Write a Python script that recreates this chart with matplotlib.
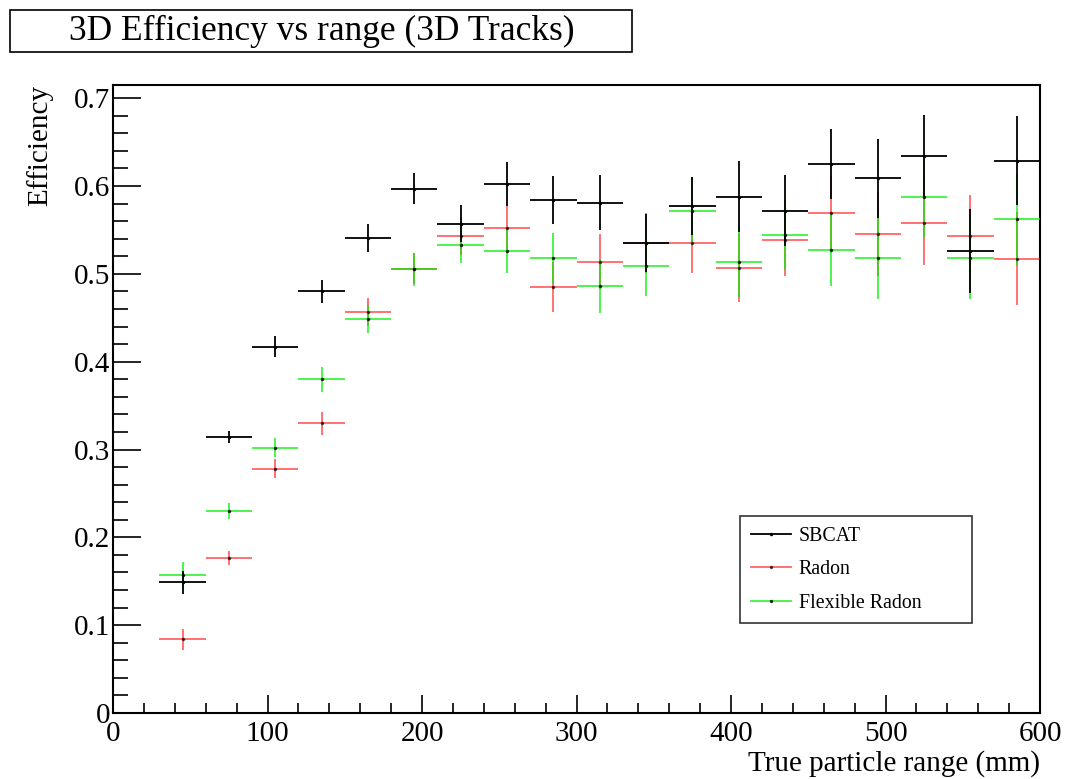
import numpy as np
import matplotlib
matplotlib.use("Agg")
import matplotlib.pyplot as plt
from matplotlib.lines import Line2D
from matplotlib.patches import Rectangle

plt.rcParams['font.family'] = ['Liberation Serif', 'DejaVu Serif']

# Bin centers (mm) and half-width
bin_centers = [45, 75, 105, 135, 165, 195, 225, 255, 285, 315, 345, 375, 405, 435, 465, 495, 525, 555, 585]
bin_half = 15

sbcat = [0.149, 0.314, 0.417, 0.480, 0.541, 0.597, 0.557, 0.602, 0.584, 0.581, 0.535, 0.577, 0.588, 0.572, 0.625, 0.609, 0.634, 0.526, 0.629]
sbcat_err = [0.013, 0.007, 0.012, 0.013, 0.016, 0.018, 0.021, 0.025, 0.027, 0.031, 0.033, 0.033, 0.040, 0.040, 0.040, 0.045, 0.047, 0.048, 0.051]

radon = [0.084, 0.177, 0.278, 0.330, 0.457, 0.506, 0.543, 0.552, 0.485, 0.514, 0.535, 0.535, 0.507, 0.538, 0.569, 0.545, 0.558, 0.543, 0.517]
radon_err = [0.012, 0.008, 0.011, 0.013, 0.016, 0.018, 0.022, 0.025, 0.028, 0.031, 0.034, 0.034, 0.039, 0.041, 0.042, 0.048, 0.048, 0.047, 0.053]

flex = [0.157, 0.230, 0.302, 0.380, 0.449, 0.505, 0.533, 0.526, 0.518, 0.486, 0.509, 0.572, 0.514, 0.544, 0.527, 0.518, 0.587, 0.518, 0.562]
flex_err = [0.015, 0.009, 0.011, 0.014, 0.016, 0.019, 0.021, 0.025, 0.028, 0.031, 0.034, 0.038, 0.040, 0.040, 0.041, 0.047, 0.045, 0.047, 0.052]

labels = ["SBCAT", "Radon", "Flexible Radon"]
colors = ["black", "#ff0000", "#00ee00"]
alphas = [1.0, 0.6, 0.75]

fig = plt.figure(figsize=(10.67, 7.79), dpi=100)
ax = fig.add_axes([113/1067, 1-713/779, (1040-113)/1067, (713-85)/779])

xerr = [bin_half] * len(bin_centers)
for vals, errs, c, a in [(radon, radon_err, colors[1], alphas[1]),
                         (flex, flex_err, colors[2], alphas[2]),
                         (sbcat, sbcat_err, colors[0], alphas[0])]:
    ax.errorbar(bin_centers, vals, xerr=xerr, yerr=errs, fmt='o', ms=1.5,
                color=c, mfc='black', mec='black', ecolor=c, elinewidth=1.3,
                capsize=0, alpha=a, zorder=3)

ax.set_xlim(0, 600)
ax.set_ylim(0, 0.715)
ax.set_xticks(np.arange(0, 601, 100))
ax.set_xticks(np.arange(0, 601, 20), minor=True)
ax.set_yticks(np.arange(0, 0.71, 0.1))
ax.set_yticks(np.arange(0, 0.71, 0.02), minor=True)
ax.set_yticklabels(["0", "0.1", "0.2", "0.3", "0.4", "0.5", "0.6", "0.7"])
ax.tick_params(axis='both', which='both', direction='in', labelsize=21,
               top=False, right=False, width=1.2)
ax.tick_params(axis='y', which='major', length=20, pad=2)
ax.tick_params(axis='y', which='minor', length=11)
ax.tick_params(axis='x', which='major', length=13, pad=6)
ax.tick_params(axis='x', which='minor', length=7)
for s in ax.spines.values():
    s.set_linewidth(1.5)

ax.set_xlabel("True particle range (mm)", fontsize=21, loc='right')
ax.xaxis.set_label_coords(1.0, -(750-713)/628)
ax.set_ylabel("Efficiency", fontsize=21, loc='top')
ax.yaxis.set_label_coords(-(113-53)/927, 1.0)

# Legend
handles = [Line2D([0], [0], color=c, lw=1.3, alpha=a, marker='o', ms=1.5,
                  mfc='black', mec='black') for c, a in zip(colors, alphas)]
leg = ax.legend(handles, labels, loc='upper left', mode='expand',
                bbox_to_anchor=((740-113)/927, (713-516)/628, (972-740)/927, 0.0),
                fontsize=14.3, frameon=True, fancybox=False, edgecolor='black',
                handlelength=2.0, labelspacing=0.72, borderpad=0.55,
                handletextpad=0.4, borderaxespad=0)
leg.get_frame().set_linewidth(1.2)

# Title box
fig.patches.append(Rectangle((10/1067, 1-52/779), (632-10)/1067, 42/779,
                             transform=fig.transFigure, fill=False,
                             edgecolor='black', lw=1.2))
fig.text(322/1067, 1-31/779, "3D Efficiency vs range (3D Tracks)",
         ha='center', va='center', fontsize=25.5)

fig.savefig("out.png", dpi=100)
